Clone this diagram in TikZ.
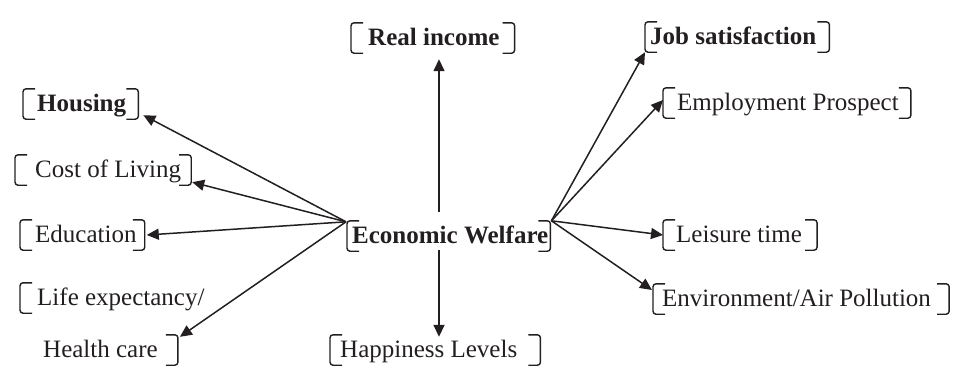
\documentclass[tikz,border=0pt]{standalone}
\usepackage{fontspec}
\setmainfont{Liberation Serif}
\usetikzlibrary{arrows.meta}
\definecolor{ink}{RGB}{35,31,32}
\newcommand\lbrk[2]{\draw[brk] ([xshift=-#2+12pt]#1.north west) -- ([xshift=-#2]#1.north west) -- ([xshift=-#2]#1.south west) -- ([xshift=-#2+12pt]#1.south west);}
\newcommand\rbrk[2]{\draw[brk] ([xshift=#2-12pt]#1.north east) -- ([xshift=#2]#1.north east) -- ([xshift=#2]#1.south east) -- ([xshift=#2-12pt]#1.south east);}
\begin{document}
\begin{tikzpicture}[x=1pt,y=-1pt,
  lbl/.style={anchor=base west,inner xsep=0pt,inner ysep=2pt,text height=20pt,text depth=6pt,
    font=\fontsize{25}{30}\selectfont,text=ink},
  bld/.style={lbl,font=\fontsize{25}{30}\selectfont\bfseries},
  brk/.style={line width=1.4pt,rounded corners=3pt,ink},
  arr/.style={line width=1.5pt,ink,-{Triangle[length=12pt,width=11pt]}}]
\useasboundingbox (0,0) rectangle (953,365);
% nodes
\node[bld] (ri) at (368,45) {Real income};
\node[bld] (js) at (650,44) {Job satisfaction};
\node[lbl] (ep) at (677,110) {Employment Prospect};
\node[lbl] (lt) at (676,242) {Leisure time};
\node[lbl] (en) at (662,306) {Environment/Air Pollution};
\node[bld] (ew) at (352,243) {Economic Welfare};
\node[lbl] (hl) at (340,357) {Happiness Levels};
\node[bld] (ho) at (37,111) {Housing};
\node[lbl] (cl) at (35,177) {Cost of Living};
\node[lbl] (ed) at (35,242) {Education};
\node[lbl] (le) at (37,305) {Life expectancy/};
\node[lbl] (hc) at (43,357) {Health care};
% brackets
\lbrk{ri}{17pt}\rbrk{ri}{15pt}
\lbrk{js}{5pt}\rbrk{js}{13pt}
\lbrk{ep}{14pt}\rbrk{ep}{12pt}
\lbrk{lt}{13pt}\rbrk{lt}{15pt}
\lbrk{en}{9pt}\rbrk{en}{18pt}
\lbrk{ew}{5pt}\rbrk{ew}{2pt}
\lbrk{hl}{10pt}\rbrk{hl}{23pt}
\lbrk{ho}{14pt}\rbrk{ho}{12pt}
\lbrk{cl}{20pt}\rbrk{cl}{10pt}
\lbrk{ed}{15pt}\rbrk{ed}{8pt}
\lbrk{le}{17pt}
\rbrk{hc}{20pt}
% hubs
\coordinate (hubl) at ([xshift=-6pt,yshift=-1pt]ew.north west);
\coordinate (hubr) at ([xshift=3pt]ew.north east);
\coordinate (up) at (439,212);
\coordinate (dn) at (439,250);
% connectors
\draw[arr] (up) -- ([yshift=-6pt]ri.south -| up);
\draw[arr] (dn) -- ([yshift=-2pt]hl.north -| dn);
\draw[arr] (hubl) -- ([xshift=17pt,yshift=4pt]ho.south east);
\draw[arr] (hubl) -- ([xshift=11pt,yshift=3pt]cl.south east);
\draw[arr] (hubl) -- ([xshift=10pt]ed.east);
\draw[arr] (hubl) -- ([xshift=22pt,yshift=-2pt]hc.north east);
\draw[arr] (hubr) -- ([xshift=-5pt]js.south west);
\draw[arr] (hubr) -- ([xshift=-14pt,yshift=3pt]ep.west);
\draw[arr] (hubr) -- ([xshift=-13pt]lt.west);
\draw[arr] (hubr) -- ([xshift=-10pt,yshift=9pt]en.west);
\end{tikzpicture}
\end{document}
